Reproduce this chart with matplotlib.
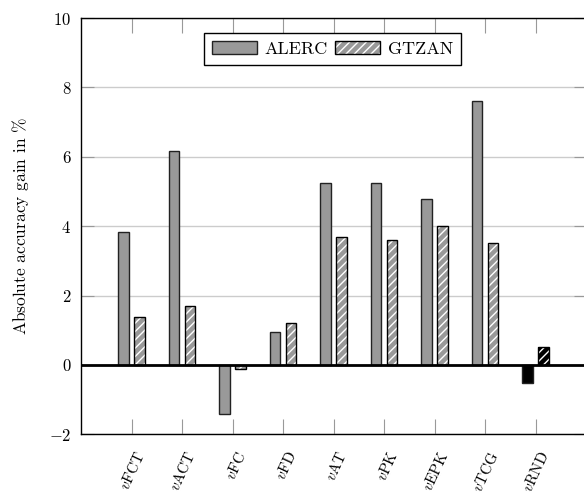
import matplotlib
matplotlib.use("Agg")
import matplotlib.pyplot as plt
import matplotlib.transforms as mtransforms
import numpy as np
from matplotlib.legend_handler import HandlerTuple

plt.rcParams["font.family"] = ["cmr10"]
plt.rcParams["mathtext.fontset"] = "cm"
plt.rcParams["axes.formatter.use_mathtext"] = True
plt.rcParams["hatch.linewidth"] = 1.0

# data
features = ["FCT", "ACT", "FC", "FD", "AT", "PK", "EPK", "TCG", "RND"]
alerc = [3.82, 6.18, -1.42, 0.96, 5.24, 5.24, 4.77, 7.62, -0.52]
gtzan = [1.39, 1.71, -0.12, 1.20, 3.70, 3.60, 4.00, 3.50, 0.52]

gray = "#999999"
x = np.arange(len(features))
w = 0.21
off = 0.16
hatch = "////"

# last group (random baseline) is drawn in black
face = [gray] * (len(features) - 1) + ["black"]

fig = plt.figure(figsize=(5.84, 4.93), dpi=100)
ax = fig.add_axes([81 / 584, 1 - 434.3 / 493, 505 / 584, 416.3 / 493])

ax.set_axisbelow(True)
ax.grid(axis="y", color="#cccccc", linewidth=1.0)

ax.bar(x - off, alerc, w, color=face, edgecolor="#222222", linewidth=1.0, zorder=3)
ax.bar(x + off, gtzan, w, color=face, edgecolor="white", linewidth=0,
       hatch=hatch, zorder=3)
ax.bar(x + off, gtzan, w, fill=False, edgecolor="black", linewidth=1.0, zorder=4)

ax.axhline(0, color="black", linewidth=2.0, zorder=5)

ax.set_xlim(-1, 9)
ax.set_ylim(-2, 10)
ax.set_yticks(np.arange(-2, 11, 2))
ax.set_xticks(x)
ax.set_xticklabels([r"$v$" + f for f in features], rotation=65, ha="right",
                   va="center", rotation_mode="anchor")
ax.tick_params(axis="x", direction="in", length=11, color="#999999",
               top=True, labelsize=11, pad=13)
ax.tick_params(axis="y", direction="in", length=9, color="#999999",
               right=True, labelsize=12, pad=7)
shift = mtransforms.ScaledTranslation(0.1, 0, fig.dpi_scale_trans)
for lbl in ax.get_xticklabels():
    lbl.set_transform(lbl.get_transform() + shift)
for s in ax.spines.values():
    s.set_linewidth(1.0)

ax.set_ylabel(r"Absolute accuracy gain in $\%$", fontsize=12.5, labelpad=13)

g_patch = plt.Rectangle((0, 0), 1, 1, facecolor=gray, edgecolor="white",
                        linewidth=0, hatch=hatch)
g_edge = plt.Rectangle((0, 0), 1, 1, fill=False, edgecolor="black", linewidth=1.0)
a_patch = plt.Rectangle((0, 0), 1, 1, facecolor=gray, edgecolor="#222222", linewidth=1.0)
leg = ax.legend([a_patch, (g_patch, g_edge)], ["ALERC", "GTZAN"],
                handler_map={tuple: HandlerTuple(ndivide=1)},
                loc="upper center", bbox_to_anchor=(0.5 - 1 / 505, 0.985),
                ncol=2, fontsize=13, handlelength=2.5, handleheight=0.7,
                handletextpad=0.42, columnspacing=0.4, fancybox=False,
                edgecolor="black", framealpha=1, borderpad=0.45,
                borderaxespad=0.5)
leg.get_frame().set_linewidth(1.0)

fig.savefig("out.png", dpi=100)
